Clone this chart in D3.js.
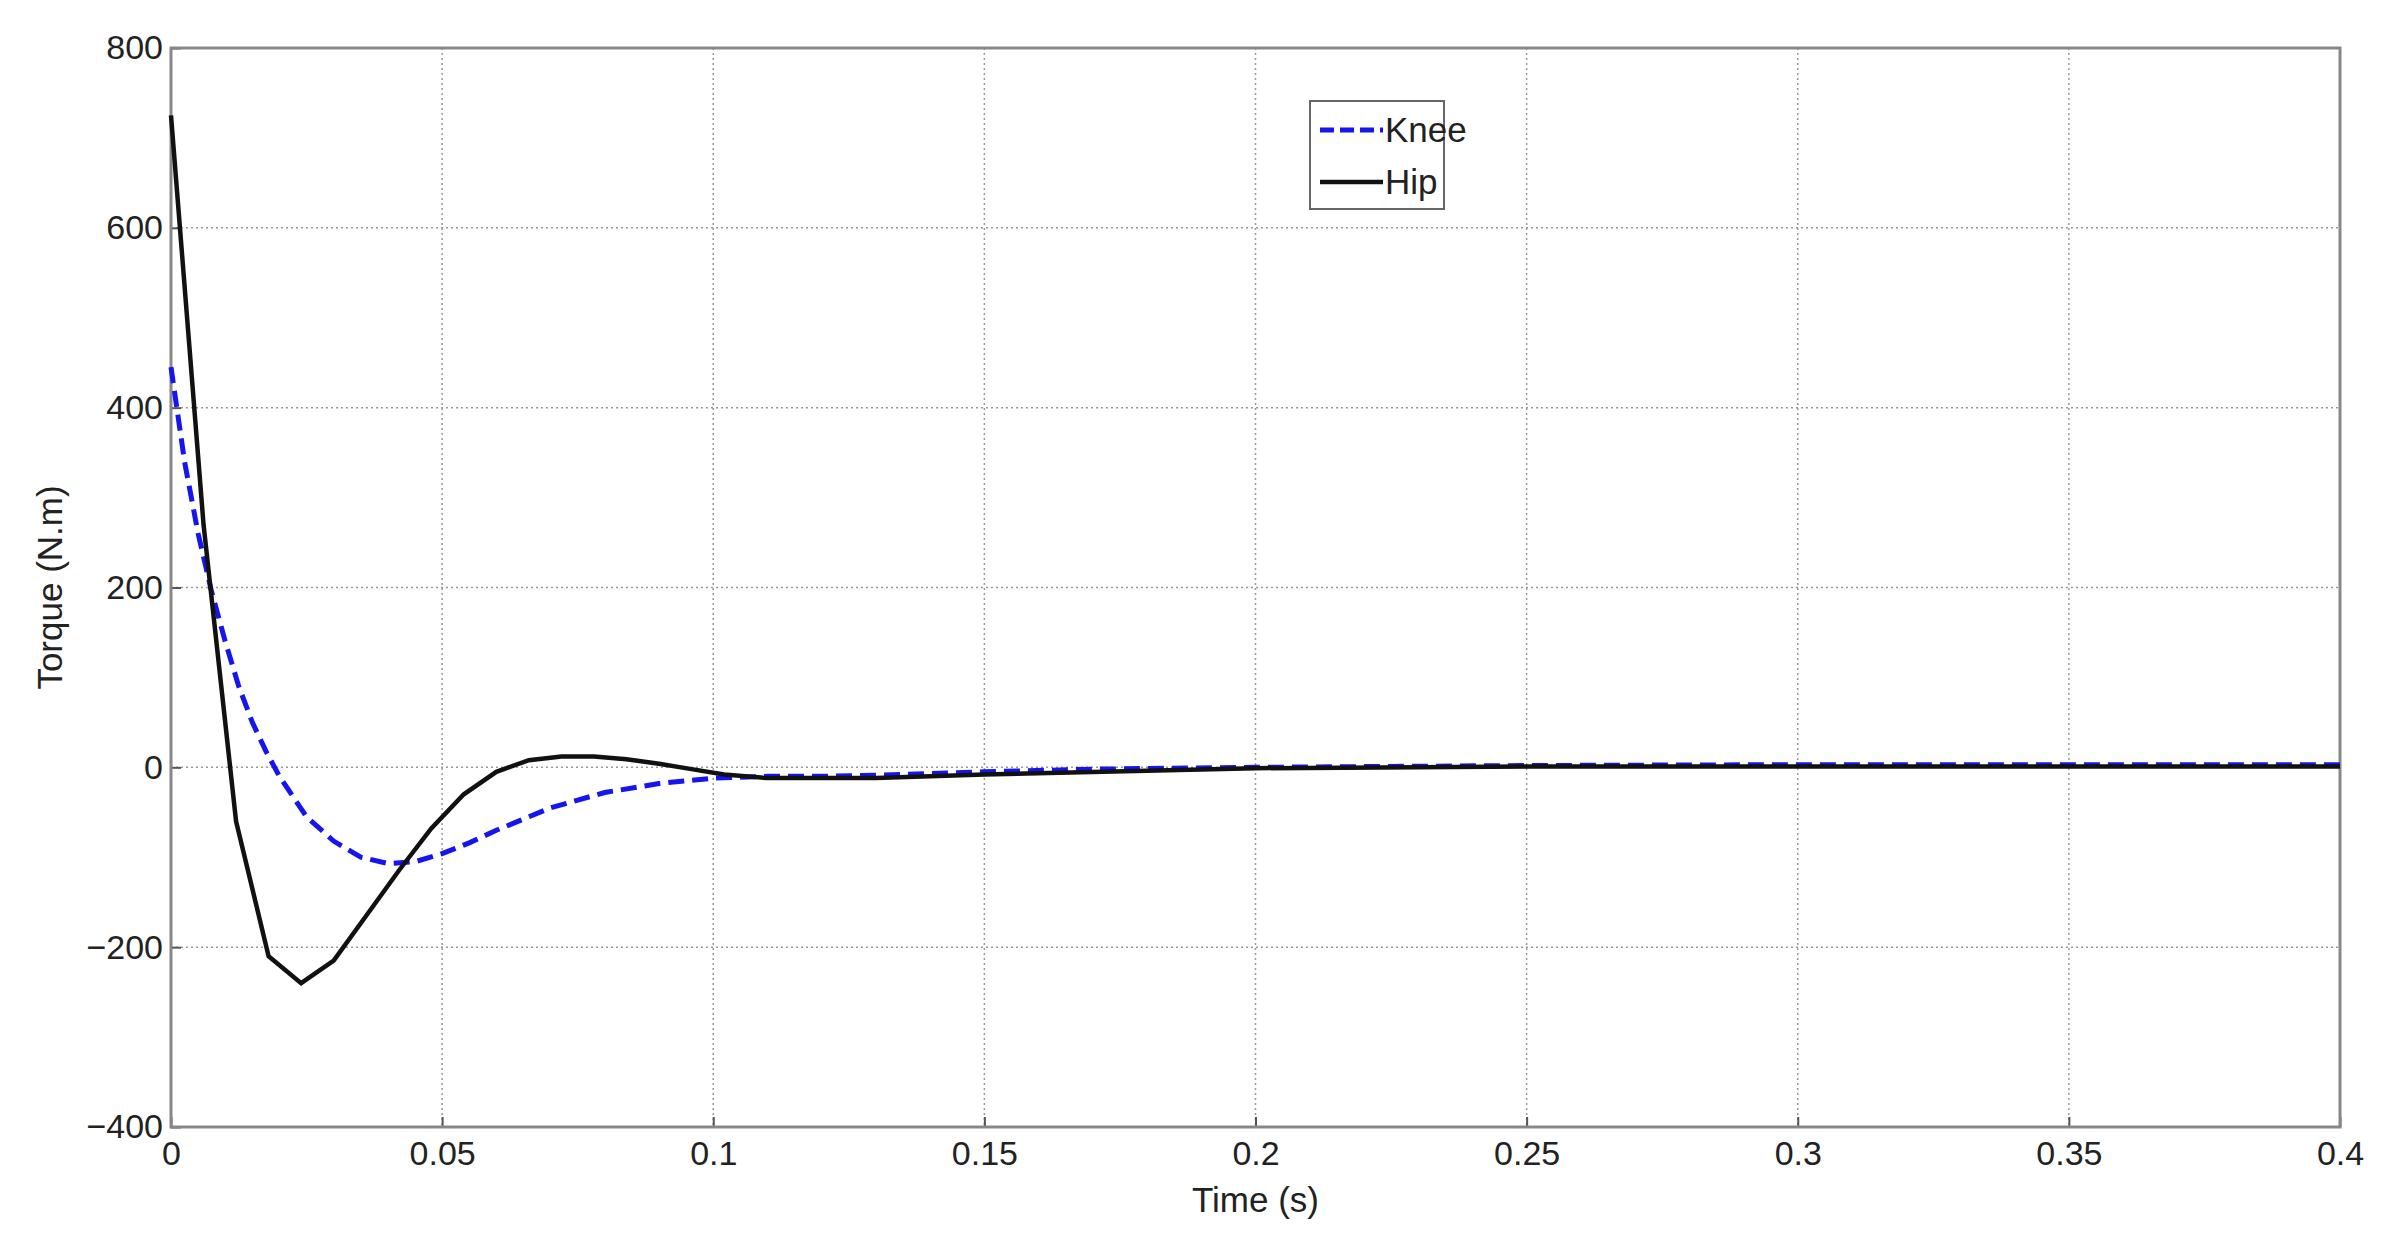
<!DOCTYPE html>
<html><head><meta charset="utf-8">
<script src="https://cdn.jsdelivr.net/npm/d3@7"></script>
<style>body{margin:0;background:#fff}</style></head>
<body><svg id="c" width="2398" height="1247"></svg>
<script>
const kneeT=[0,0.0025,0.005,0.0075,0.01,0.0125,0.015,0.0175,0.02,0.025,0.03,0.035,0.04,0.045,0.05,0.055,0.06,0.07,0.08,0.09,0.1,0.11,0.12,0.135,0.15,0.17,0.2,0.25,0.3,0.35,0.4];
const kneeV=[445,340,260,195,140,90,50,18,-10,-55,-82,-100,-107,-105,-96,-84,-70,-45,-28,-18,-12,-10,-10,-8,-5,-2,0,2,3,3,3];
const hipT=[0,0.006,0.012,0.018,0.024,0.03,0.036,0.042,0.048,0.054,0.06,0.066,0.072,0.078,0.084,0.09,0.096,0.102,0.11,0.13,0.15,0.2,0.25,0.3,0.4];
const hipV=[725,270,-60,-210,-240,-215,-165,-115,-68,-30,-5,8,12,12,9,4,-2,-8,-12,-12,-8,-1,1,1,1];
const xTicks=[0,0.05,0.1,0.15,0.2,0.25,0.3,0.35,0.4];
const yTicks=[-400,-200,0,200,400,600,800];
const L=171,R=2340,T=48,B=1127;
const svg=d3.select("#c");
const x=d3.scaleLinear().domain([0,0.4]).range([L,R]);
const y=d3.scaleLinear().domain([-400,800]).range([B,T]);
const font="Liberation Sans, Arial, sans-serif";
svg.append("g").selectAll("line").data(xTicks).join("line").attr("x1",d=>x(d)).attr("x2",d=>x(d)).attr("y1",T).attr("y2",B).attr("stroke","#999").attr("stroke-width",1.5).attr("stroke-dasharray","2,3");
svg.append("g").selectAll("line").data(yTicks).join("line").attr("y1",d=>y(d)).attr("y2",d=>y(d)).attr("x1",L).attr("x2",R).attr("stroke","#999").attr("stroke-width",1.5).attr("stroke-dasharray","2,3");
const xa=svg.append("g").attr("transform",`translate(0,${B})`).call(d3.axisBottom(x).tickValues(xTicks).tickSize(-10).tickPadding(14).tickFormat(d=>String(d)));
const ya=svg.append("g").attr("transform",`translate(${L},0)`).call(d3.axisLeft(y).tickValues(yTicks).tickSize(-10).tickPadding(8).tickFormat(d=>d<0?"\u2212"+Math.abs(d):d));
[xa,ya].forEach(a=>{a.selectAll("text").attr("font-family",font).attr("font-size",34).attr("fill","#222");a.selectAll("line").attr("stroke","#555").attr("stroke-width",2);a.select(".domain").remove();});
svg.append("rect").attr("x",L).attr("y",T).attr("width",R-L).attr("height",B-T).attr("fill","none").attr("stroke","#888").attr("stroke-width",3);
const line=(ts,vs)=>d3.line().x((d,i)=>x(ts[i])).y((d,i)=>y(vs[i]))(vs);
svg.append("path").attr("d",line(kneeT,kneeV)).attr("fill","none").attr("stroke","#1515f0").attr("stroke-width",5).attr("stroke-dasharray","16,8");
svg.append("path").attr("d",line(hipT,hipV)).attr("fill","none").attr("stroke","#111").attr("stroke-width",4.5);
svg.append("text").attr("x",(L+R)/2).attr("y",1212).attr("text-anchor","middle").attr("font-family",font).attr("font-size",35).attr("fill","#222").text("Time (s)");
svg.append("text").attr("transform",`translate(62,${(T+B)/2}) rotate(-90)`).attr("text-anchor","middle").attr("font-family",font).attr("font-size",35).attr("fill","#222").text("Torque (N.m)");
const lg=svg.append("g");
lg.append("rect").attr("x",1310).attr("y",101).attr("width",134).attr("height",108).attr("fill","#fff").attr("stroke","#666").attr("stroke-width",2);
lg.append("line").attr("x1",1320).attr("x2",1383).attr("y1",130).attr("y2",130).attr("stroke","#1515f0").attr("stroke-width",5).attr("stroke-dasharray","14,6");
lg.append("line").attr("x1",1320).attr("x2",1383).attr("y1",182).attr("y2",182).attr("stroke","#111").attr("stroke-width",4.5);
lg.append("text").attr("x",1385).attr("y",142).attr("font-family",font).attr("font-size",35).attr("fill","#222").text("Knee");
lg.append("text").attr("x",1385).attr("y",194).attr("font-family",font).attr("font-size",35).attr("fill","#222").text("Hip");
</script></body></html>
